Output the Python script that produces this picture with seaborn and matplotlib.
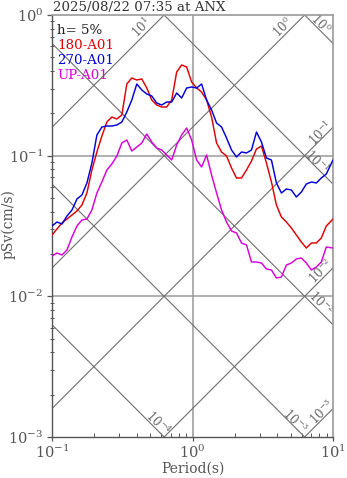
import numpy as np
import pandas as pd
import matplotlib
matplotlib.use("Agg")
import matplotlib.pyplot as plt
import seaborn as sns

# ---------------- data ----------------
title = "2025/08/22 07:35 at ANX"
damping_label = "h= 5%"
components = ["180-A01", "270-A01", "UP-A01"]

period = [0.100, 0.1085, 0.1178, 0.1278, 0.1387, 0.1505, 0.1633, 0.1772, 0.1923, 0.2087,
          0.2265, 0.2458, 0.2667, 0.2894, 0.3141, 0.3408, 0.3698, 0.4013, 0.4355, 0.4726,
          0.5128, 0.5565, 0.6039, 0.6553, 0.7111, 0.7717, 0.8374, 0.9087, 0.9861, 1.070,
          1.161, 1.260, 1.367, 1.484, 1.610, 1.747, 1.896, 2.057, 2.233, 2.423,
          2.629, 2.853, 3.096, 3.360, 3.646, 3.956, 4.293, 4.659, 5.056, 5.486,
          5.954, 6.461, 7.011, 7.608, 8.256, 8.960, 10.0]

sv_180 = [0.02729, 0.03011, 0.03322, 0.03546, 0.03786, 0.04043, 0.04460, 0.05428, 0.07909, 0.1062,
          0.1380, 0.1735, 0.1883, 0.1823, 0.1946, 0.3232, 0.3566, 0.3451, 0.3508, 0.3027,
          0.2487, 0.2292, 0.2218, 0.2218, 0.2487, 0.3934, 0.4411, 0.4269, 0.3340, 0.3027,
          0.2835, 0.2487, 0.1883, 0.1230, 0.1062, 0.09946, 0.08172, 0.06938, 0.06938, 0.07909,
          0.09164, 0.1115, 0.1171, 0.08869, 0.06499, 0.04460, 0.03664, 0.03376, 0.03060, 0.02729,
          0.02434, 0.02206, 0.02394, 0.02394, 0.02598, 0.03162, 0.03546]

sv_270 = [0.03162, 0.03376, 0.03268, 0.03725, 0.04109, 0.04920, 0.05253, 0.06393, 0.08869, 0.1403,
          0.1599, 0.1625, 0.1625, 0.1652, 0.1735, 0.2044, 0.2487, 0.3232, 0.2930, 0.2744,
          0.2656, 0.2368, 0.2292, 0.2407, 0.2407, 0.2789, 0.2570, 0.3027, 0.3077, 0.3027,
          0.3232, 0.2487, 0.2112, 0.1707, 0.1599, 0.1335, 0.1097, 0.09785, 0.1062, 0.1045,
          0.1097, 0.1473, 0.1251, 0.09626, 0.09316, 0.06393, 0.05428, 0.05795, 0.05701, 0.05084,
          0.05517, 0.06289, 0.06499, 0.06393, 0.06938, 0.07408, 0.09316]

sv_up = [0.01935, 0.02033, 0.01967, 0.02135, 0.02641, 0.03162, 0.03489, 0.03546, 0.04109, 0.05428,
         0.06499, 0.07909, 0.08725, 0.09946, 0.1230, 0.1292, 0.1079, 0.1152, 0.1230, 0.1426,
         0.1251, 0.1134, 0.1097, 0.1011, 0.09316, 0.1191, 0.1403, 0.1573, 0.1292, 0.09316,
         0.08307, 0.1011, 0.07287, 0.05428, 0.04109, 0.03376, 0.02914, 0.02820, 0.02394, 0.02317,
         0.01754, 0.01754, 0.01726, 0.01564, 0.01539, 0.01350, 0.01372, 0.01670, 0.01726, 0.01843,
         0.01873, 0.01726, 0.01539, 0.01616, 0.01754, 0.02242, 0.02206]

# tripartite reference levels
sa_levels = [1e-3, 1e-2, 1e-1, 1e0, 1e1]      # acceleration (cm/s^2)
sd_levels = [1e-4, 1e-3, 1e-2, 1e-1, 1e0]     # displacement (cm)

# ---------------- style ----------------
sns.set_style("ticks")
plt.rcParams["font.family"] = ["DejaVu Serif"]
plt.rcParams["mathtext.fontset"] = "dejavuserif"

colors = {"180-A01": "#e00000", "270-A01": "#0000d8", "UP-A01": "#d800d8"}
text_gray = "#555555"
diag_gray = "#6e6e6e"
grid_gray = "#9a9a9a"

W, H = 347, 478
fig = plt.figure(figsize=(W / 100, H / 100), dpi=100)
ax = fig.add_axes([52 / W, 1 - 437 / H, 281 / W, 422 / H])
ax.set_xscale("log")
ax.set_yscale("log")
ax.set_xlim(0.1, 10)
ax.set_ylim(1e-3, 1)

# decade grid
ax.axvline(1.0, color="#a8a8a8", lw=1.3, zorder=1)
for yv in (0.1, 0.01):
    ax.axhline(yv, color=grid_gray, lw=1.1, zorder=1)

# diagonal lines
T_line = np.array([0.1, 10.0])
for a in sa_levels:
    ax.plot(T_line, a * T_line / (2 * np.pi), color=diag_gray, lw=0.8, zorder=1)
for d in sd_levels:
    ax.plot(T_line, 2 * np.pi * d / T_line, color=diag_gray, lw=0.8, zorder=1)

# spectra
df = pd.concat([
    pd.DataFrame({"period": period, "sv": sv_180, "comp": components[0]}),
    pd.DataFrame({"period": period, "sv": sv_270, "comp": components[1]}),
    pd.DataFrame({"period": period, "sv": sv_up, "comp": components[2]}),
])
sns.lineplot(data=df, x="period", y="sv", hue="comp", palette=colors,
             estimator=None, sort=False, legend=False, lw=1.05, ax=ax, zorder=3)

# spines & ticks
for s in ("left", "bottom"):
    ax.spines[s].set_color("#555555")
    ax.spines[s].set_linewidth(1.0)
for s in ("top", "right"):
    ax.spines[s].set_visible(True)
    ax.spines[s].set_color("#9a9a9a")
    ax.spines[s].set_linewidth(1.2)

ax.tick_params(axis="y", which="major", direction="out", length=3.8, width=0.9,
               color="#555555", labelsize=10.5, labelcolor=text_gray, pad=2.5)
ax.tick_params(axis="y", which="minor", direction="inout", length=3.0, width=0.7,
               color="#555555")
ax.tick_params(axis="x", which="major", direction="out", length=3.0, width=0.9,
               color="#555555", labelsize=10.5, labelcolor=text_gray, pad=2)
ax.tick_params(axis="x", which="minor", direction="in", length=3.0, width=0.7,
               color="#555555")
ax.tick_params(top=False, right=False, which="both")

ax.set_xlabel("Period(s)", fontsize=10, color=text_gray, labelpad=0)
ax.set_ylabel("")
fig.text(8.5 / W, 1 - 224 / H, "pSv(cm/s)", rotation=90, fontsize=10,
         color=text_gray, ha="center", va="center")

fig.text(53 / W, 1 - 10.5 / H, title, fontsize=9.6, color="#333333",
         ha="left", va="baseline")

# legend-like text block
legend_items = [(damping_label, "#222222")] + [(c, colors[c]) for c in components]
for i, (txt, col) in enumerate(legend_items):
    ax.text(5 / 281, (437 - 34 - 15 * i) / 422, txt, transform=ax.transAxes,
            fontsize=9.6, color=col, ha="left", va="baseline")

# diagonal labels (along-line distance, perpendicular offset in px)
sa_label_pos = {1e-3: (10, 5), 1e-2: (11, 6), 1e-1: (13, 4), 1e0: (24, 7), 1e1: (25, 7)}
sd_label_pos = {1e-4: (14, 5), 1e-3: (18, 4), 1e-2: (24, 7), 1e-1: (27, 4), 1e0: (23, 5)}

fig.canvas.draw()
tr = ax.transData
inv = tr.inverted()
r2 = np.sqrt(2)
for a in sa_levels:
    t_end = min(10.0, 2 * np.pi / a)
    p = tr.transform((t_end, a * t_end / (2 * np.pi)))
    L, P = sa_label_pos[a]
    c = p + np.array([-L / r2, -L / r2]) + np.array([-P / r2, P / r2])
    x, y = inv.transform(c)
    ax.text(x, y, r"$10^{%d}$" % int(round(np.log10(a))), rotation=45,
            rotation_mode="anchor", ha="center", va="center", fontsize=8.5,
            color="#666666", zorder=2)
for d in sd_levels:
    sv_r = 2 * np.pi * d / 10.0
    if sv_r >= 1e-3:
        p = tr.transform((10.0, sv_r))
    else:
        p = tr.transform((2 * np.pi * d / 1e-3, 1e-3))
    L, P = sd_label_pos[d]
    c = p + np.array([-L / r2, L / r2]) + np.array([P / r2, P / r2])
    x, y = inv.transform(c)
    ax.text(x, y, r"$10^{%d}$" % int(round(np.log10(d))), rotation=-45,
            rotation_mode="anchor", ha="center", va="center", fontsize=8.5,
            color="#666666", zorder=2)

fig.savefig("out.png", dpi=100)
